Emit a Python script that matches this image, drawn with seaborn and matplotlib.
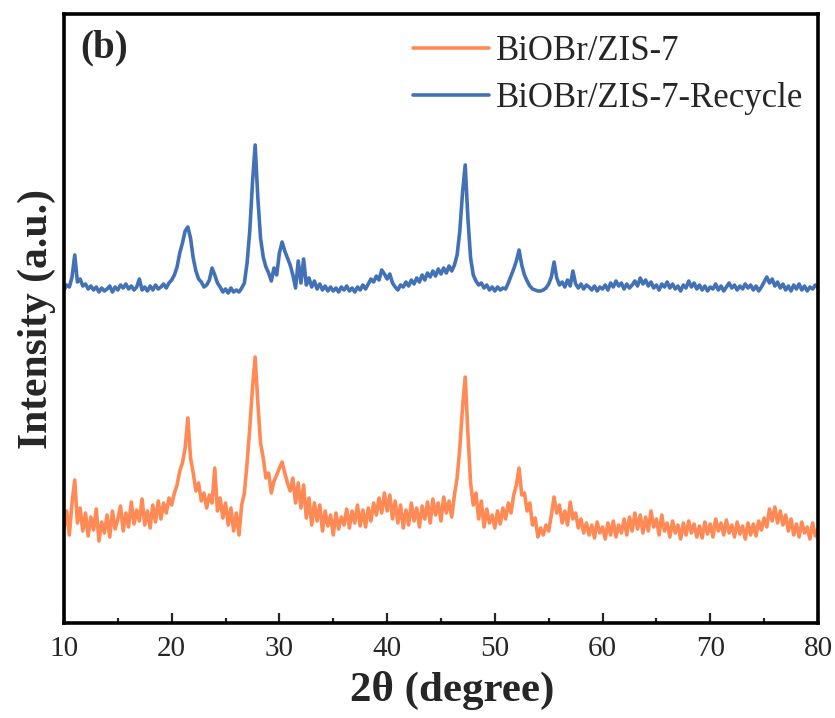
import numpy as np
import pandas as pd
import matplotlib
matplotlib.use("Agg")
import matplotlib.pyplot as plt
from matplotlib.ticker import MultipleLocator
import seaborn as sns

# 2-theta scan, 10-80 degrees in 0.25 degree steps
two_theta = np.linspace(10, 80, 281)

# Offset intensities (a.u.) of the recycled composite, one row per degree
recycle = [
    333, 338, 336, 346,   # 10
    368, 341, 344, 337,   # 11
    339, 334, 337, 333,   # 12
    336, 331, 335, 332,   # 13
    334, 337, 331, 336,   # 14
    333, 338, 335, 339,   # 15
    334, 337, 333, 336,   # 16
    344, 333, 336, 332,   # 17
    337, 333, 338, 334,   # 18
    336, 339, 335, 340,   # 19
    343, 348, 356, 370,   # 20
    380, 392, 396, 385,   # 21
    365, 352, 344, 341,   # 22
    336, 338, 343, 355,   # 23
    348, 340, 336, 331,   # 24
    334, 330, 335, 331,   # 25
    333, 331, 335, 340,   # 26
    360, 392, 440, 478,   # 27
    425, 385, 366, 356,   # 28
    350, 342, 355, 348,   # 29
    370, 381, 372, 365,   # 30
    358, 348, 335, 362,   # 31
    340, 364, 338, 345,   # 32
    336, 342, 334, 339,   # 33
    333, 337, 332, 336,   # 34
    332, 335, 331, 336,   # 35
    333, 337, 332, 335,   # 36
    331, 336, 333, 338,   # 37
    334, 339, 344, 341,   # 38
    347, 343, 353, 349,   # 39
    344, 349, 340, 336,   # 40
    333, 338, 336, 341,   # 41
    337, 343, 339, 345,   # 42
    341, 348, 343, 350,   # 43
    346, 352, 347, 354,   # 44
    349, 355, 350, 357,   # 45
    352, 358, 368, 392,   # 46
    430, 458, 405, 365,   # 47
    348, 342, 338, 340,   # 48
    335, 338, 333, 336,   # 49
    332, 336, 333, 335,   # 50
    334, 340, 347, 354,   # 51
    362, 373, 358, 348,   # 52
    342, 337, 334, 333,   # 53
    332, 332, 333, 335,   # 54
    339, 346, 361, 345,   # 55
    338, 341, 336, 343,   # 56
    337, 352, 339, 335,   # 57
    339, 334, 338, 336,   # 58
    333, 337, 332, 336,   # 59
    334, 338, 333, 340,   # 60
    336, 342, 337, 340,   # 61
    334, 339, 335, 338,   # 62
    342, 337, 345, 339,   # 63
    343, 337, 341, 335,   # 64
    338, 333, 339, 336,   # 65
    341, 335, 339, 334,   # 66
    337, 332, 338, 335,   # 67
    342, 336, 340, 334,   # 68
    338, 333, 337, 332,   # 69
    336, 334, 339, 333,   # 70
    337, 332, 336, 340,   # 71
    335, 338, 333, 337,   # 72
    334, 339, 335, 338,   # 73
    333, 337, 332, 336,   # 74
    341, 346, 340, 344,   # 75
    337, 341, 335, 339,   # 76
    333, 337, 332, 338,   # 77
    334, 339, 333, 337,   # 78
    332, 336, 334, 338,   # 79
    335,                  # 80
]

# Intensities (a.u.) of the fresh composite
fresh = [
    95, 112, 88, 120,     # 10
    143, 100, 115, 92,    # 11
    110, 87, 106, 93,     # 12
    114, 82, 101, 90,     # 13
    108, 86, 112, 94,     # 14
    104, 117, 92, 110,    # 15
    96, 121, 99, 113,     # 16
    102, 124, 98, 112,    # 17
    95, 118, 101, 122,    # 18
    104, 120, 110, 125,   # 19
    118, 130, 138, 152,   # 20
    160, 175, 205, 165,   # 21
    150, 132, 140, 122,   # 22
    130, 115, 128, 120,   # 23
    155, 112, 125, 105,   # 24
    120, 98, 115, 92,     # 25
    110, 88, 118, 130,    # 26
    160, 195, 235, 266,   # 27
    220, 180, 165, 145,   # 28
    150, 130, 142, 148,   # 29
    155, 161, 150, 140,   # 30
    132, 145, 120, 140,   # 31
    115, 138, 105, 125,   # 32
    98, 120, 102, 118,    # 33
    92, 112, 97, 108,     # 34
    88, 110, 94, 106,     # 35
    98, 114, 95, 112,     # 36
    100, 118, 97, 113,    # 37
    96, 115, 102, 120,    # 38
    108, 125, 110, 130,   # 39
    112, 128, 104, 122,   # 40
    100, 118, 95, 113,    # 41
    98, 120, 102, 115,    # 42
    96, 117, 104, 121,    # 43
    100, 124, 108, 120,   # 44
    102, 126, 110, 122,   # 45
    106, 128, 145, 175,   # 46
    215, 246, 190, 140,   # 47
    118, 130, 104, 122,   # 48
    96, 114, 100, 108,    # 49
    95, 112, 99, 115,     # 50
    104, 120, 110, 128,   # 51
    138, 155, 128, 130,   # 52
    112, 120, 98, 105,    # 53
    86, 95, 88, 98,       # 54
    92, 108, 126, 110,    # 55
    118, 100, 112, 98,    # 56
    121, 104, 110, 95,    # 57
    104, 90, 100, 88,     # 58
    98, 85, 101, 90,      # 59
    96, 84, 100, 88,      # 60
    102, 86, 98, 90,      # 61
    104, 88, 106, 92,     # 62
    110, 94, 108, 90,     # 63
    106, 92, 112, 96,     # 64
    104, 88, 108, 92,     # 65
    100, 86, 102, 90,     # 66
    98, 84, 100, 88,      # 67
    102, 90, 99, 86,      # 68
    97, 85, 101, 89,      # 69
    99, 86, 104, 92,      # 70
    100, 88, 103, 90,     # 71
    98, 86, 101, 89,      # 72
    97, 84, 100, 88,      # 73
    99, 87, 102, 93,      # 74
    105, 96, 114, 102,    # 75
    116, 100, 112, 98,    # 76
    108, 92, 104, 88,     # 77
    99, 86, 101, 90,      # 78
    96, 84, 100, 87,      # 79
    94,                   # 80
]

labels = ["BiOBr/ZIS-7", "BiOBr/ZIS-7-Recycle"]
colors = ["#FF8A55", "#4271B5"]

sns.set_theme(style="ticks")
plt.rcParams["font.family"] = ["Liberation Serif", "DejaVu Serif"]

fig = plt.figure(figsize=(8.35, 7.18), dpi=100)
ax = fig.add_axes([0.0766, 0.1323, 0.9030, 0.8482])

df = pd.DataFrame({
    "two_theta": np.concatenate([two_theta, two_theta]),
    "intensity": np.concatenate([fresh, recycle]),
    "sample": [labels[0]] * len(fresh) + [labels[1]] * len(recycle),
})

sns.lineplot(data=df, x="two_theta", y="intensity", hue="sample",
             hue_order=labels, palette=colors, estimator=None, sort=False,
             linewidth=2.6, ax=ax)

ax.set_xlim(10, 80)
ax.set_ylim(0, 609)
ax.xaxis.set_major_locator(MultipleLocator(10))
ax.xaxis.set_minor_locator(MultipleLocator(5))
ax.set_yticks([])
ax.tick_params(axis="x", which="major", direction="in", length=7, width=1.6,
               labelsize=21, pad=9, top=False)
ax.tick_params(axis="x", which="minor", direction="in", length=3.5, width=1.6,
               top=False)
for s in ax.spines.values():
    s.set_linewidth(2.6)
    s.set_color("black")

ax.set_xlabel("2θ (degree)", fontsize=31, fontweight="bold")
ax.xaxis.set_label_coords(0.515, -0.078, transform=ax.transAxes)
ax.xaxis.label.set_va("top")
ax.set_ylabel("Intensity (a.u.)", fontsize=30, fontweight="bold", labelpad=6)

ax.text(0.022, 0.945, "(b)", transform=ax.transAxes, fontsize=28,
        fontweight="bold", va="center", ha="left")

ax.legend(loc="upper left", bbox_to_anchor=(0.463, 0.965), frameon=False,
          fontsize=25, handlelength=2.2, handletextpad=0.2, labelspacing=0.4,
          borderpad=0, borderaxespad=0)

fig.savefig("out.png", dpi=100)
